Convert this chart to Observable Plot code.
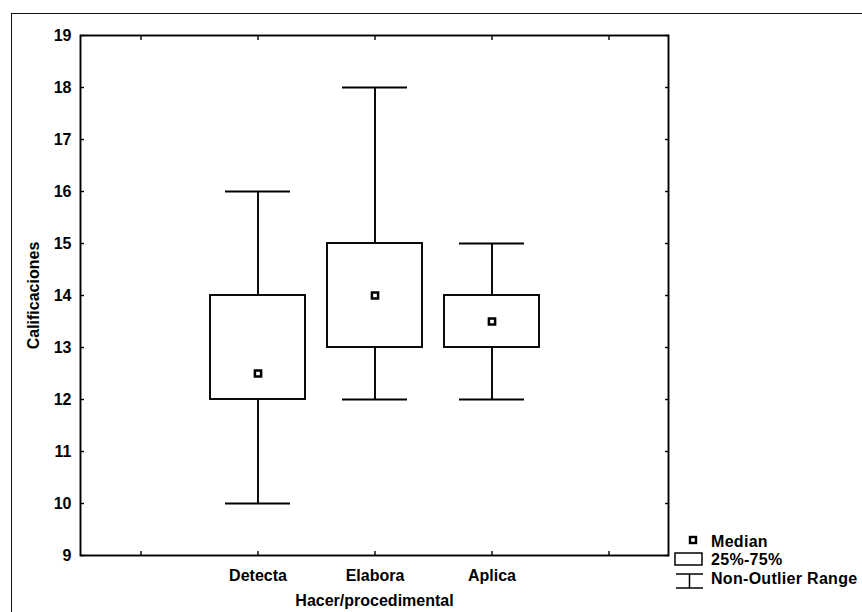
<!DOCTYPE html>
<html>
<head>
<meta charset="utf-8">
<script src="https://cdn.jsdelivr.net/npm/d3@7"></script>
<script src="https://cdn.jsdelivr.net/npm/@observablehq/plot@0.6"></script>
<style>
  html, body { margin: 0; padding: 0; background: #fff; }
  #wrap { position: relative; width: 862px; height: 612px; overflow: hidden; }
  #outer { position: absolute; left: 11px; top: 13px; width: 900px; height: 700px;
           border-left: 1.5px solid #111; border-top: 1.5px solid #111; }
  #chart { position: absolute; left: 0; top: 0; }
  #legend { position: absolute; left: 0; top: 0; }
  text { font-family: "Liberation Sans", Arial, sans-serif; }
</style>
</head>
<body>
<div id="wrap">
  <div id="outer"></div>
  <div id="chart"></div>
  <svg id="legend" width="862" height="612"></svg>
</div>
<script>
// ---- data ----
const categories = ["Detecta", "Elabora", "Aplica"];
const minValues    = [10, 12, 12];
const q1Values     = [12, 13, 13];
const medianValues = [12.5, 14, 13.5];
const q3Values     = [14, 15, 14];
const maxValues    = [16, 18, 15];
const yTicks = [9, 10, 11, 12, 13, 14, 15, 16, 17, 18, 19];
const xTitle = "Hacer/procedimental";
const yTitle = "Calificaciones";
const legendLabels = ["Median", "25%-75%", "Non-Outlier Range"];

const rows = categories.map((c, i) => ({
  cat: c, min: minValues[i], q1: q1Values[i], med: medianValues[i], q3: q3Values[i], max: maxValues[i]
}));
const xDomain = [" ", ...categories, "  "];

const font = "Liberation Sans, Arial, sans-serif";
const blank = () => "";
const sw = 1.9;
const chart = Plot.plot({
  width: 862,
  height: 612,
  marginLeft: 80,
  marginTop: 35,
  marginRight: 194,
  marginBottom: 57,
  style: { fontFamily: font, fontSize: "16px", fontWeight: "bold", background: "transparent", color: "#000" },
  x: { type: "band", domain: xDomain, padding: 0 },
  y: { domain: [9, 19] },
  marks: [
    Plot.frame({ stroke: "#000", strokeWidth: sw }),
    // axes labels
    Plot.axisY({ anchor: "left", ticks: yTicks, tickSize: 0, tickPadding: 9, label: null }),
    Plot.axisX({ anchor: "bottom", tickSize: 0, tickPadding: 14, label: null,
                 tickFormat: d => d.trim(), letterSpacing: 0.6 }),
    // inward ticks
    Plot.axisY({ anchor: "left", ticks: yTicks, tickSize: 4, dx: 4, tickFormat: blank, label: null, strokeWidth: 1.4 }),
    Plot.axisY({ anchor: "right", ticks: yTicks, tickSize: 4, dx: -4, tickFormat: blank, label: null, strokeWidth: 1.4 }),
    Plot.axisX({ anchor: "bottom", tickSize: 4, dy: -4, tickFormat: blank, label: null, strokeWidth: 1.4 }),
    Plot.axisX({ anchor: "top", tickSize: 4, dy: 4, tickFormat: blank, label: null, strokeWidth: 1.4 }),
    // whiskers
    Plot.ruleX(rows, { x: "cat", y1: "min", y2: "q1", stroke: "#000", strokeWidth: sw }),
    Plot.ruleX(rows, { x: "cat", y1: "q3", y2: "max", stroke: "#000", strokeWidth: sw }),
    Plot.tickY(rows, { x: "cat", y: "min", insetLeft: 26, insetRight: 26, stroke: "#000", strokeWidth: sw }),
    Plot.tickY(rows, { x: "cat", y: "max", insetLeft: 26, insetRight: 26, stroke: "#000", strokeWidth: sw }),
    // boxes
    Plot.barY(rows, { x: "cat", y1: "q1", y2: "q3", insetLeft: 11, insetRight: 11,
                      fill: "#fff", stroke: "#000", strokeWidth: sw }),
    // medians
    Plot.dot(rows, { x: "cat", y: "med", symbol: "square", r: 3.5, fill: "#fff", stroke: "#000", strokeWidth: 2.5 }),
    // titles
    Plot.text([yTitle], { frameAnchor: "left", dx: -47, rotate: -90, text: d => d, textAnchor: "middle",
                          fontSize: 16, fontWeight: "bold", letterSpacing: 0.8 }),
    Plot.text([xTitle], { frameAnchor: "bottom", dy: 50, text: d => d, textAnchor: "middle",
                          fontSize: 16, fontWeight: "bold", letterSpacing: 0.4 })
  ]
});
document.getElementById("chart").appendChild(chart);

// ---- legend ----
const lg = d3.select("#legend");
// median symbol
lg.append("rect").attr("x", 690).attr("y", 537).attr("width", 6).attr("height", 6)
  .attr("fill", "#fff").attr("stroke", "#000").attr("stroke-width", 2.4);
// box symbol
lg.append("rect").attr("x", 675).attr("y", 553).attr("width", 27).attr("height", 12)
  .attr("fill", "#fff").attr("stroke", "#000").attr("stroke-width", 1.5);
// whisker symbol
lg.append("line").attr("x1", 676).attr("x2", 703).attr("y1", 574).attr("y2", 574).attr("stroke", "#000").attr("stroke-width", 1.5);
lg.append("line").attr("x1", 676).attr("x2", 703).attr("y1", 588).attr("y2", 588).attr("stroke", "#000").attr("stroke-width", 1.5);
lg.append("line").attr("x1", 689.5).attr("x2", 689.5).attr("y1", 574).attr("y2", 588).attr("stroke", "#000").attr("stroke-width", 1.5);
const ly = [541, 559, 578];
legendLabels.forEach((t, i) => {
  lg.append("text").attr("x", 711).attr("y", ly[i]).attr("dy", "0.35em")
    .attr("font-size", 16).attr("font-weight", "bold").attr("letter-spacing", 0.3).attr("fill", "#000").text(t);
});
</script>
</body>
</html>
